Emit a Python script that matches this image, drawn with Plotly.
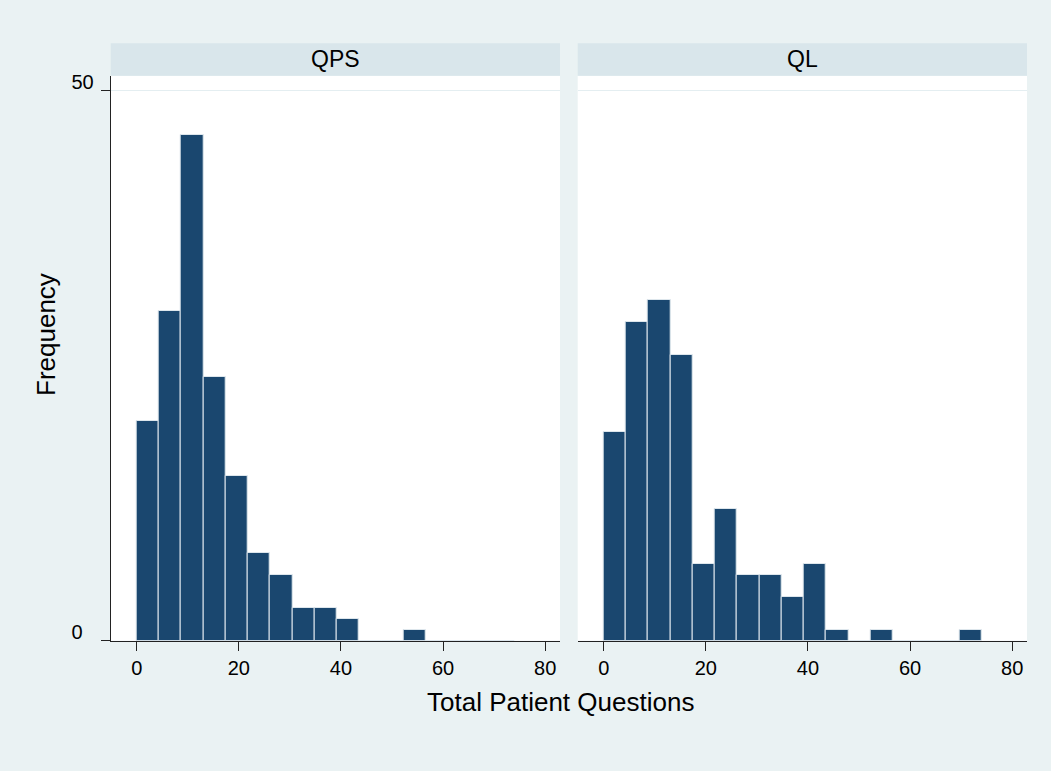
import numpy as np
import plotly.graph_objects as go

# Histogram counts per bin (17 equal-width bins starting at 0)
panels = ["QPS", "QL"]
qps_counts = [20, 30, 46, 24, 15, 8, 6, 3, 3, 2, 0, 0, 1, 0, 0, 0, 0]
ql_counts = [19, 29, 31, 26, 7, 12, 6, 6, 4, 7, 1, 0, 1, 0, 0, 0, 1]
bin_start = 0.0
bin_width = 74 / 17
x_ticks = [0, 20, 40, 60, 80]
y_ticks = [0, 50]
# left-aligned y labels: pad the single digit with a figure space
y_tick_text = ["0\u2007", "50"]

x_title = "Total Patient Questions"
y_title = "Frequency"

BAR = "#1a476f"
BAR_EDGE = "#dde6ec"
PAPER = "#eaf2f3"
STRIP = "#d9e6eb"
FONT = "Liberation Sans, Arial, sans-serif"

W, H = 1051, 771


def px_x(p):
    return p / W


def px_y(p):
    return 1 - p / H


edges = bin_start + bin_width * np.arange(len(qps_counts))
centers = edges + bin_width / 2

fig = go.Figure()
for i, counts in enumerate([qps_counts, ql_counts]):
    fig.add_trace(go.Bar(
        x=centers, y=counts, width=bin_width,
        marker=dict(color=BAR, line=dict(color=BAR_EDGE, width=1)),
        xaxis="x" if i == 0 else "x2",
        yaxis="y" if i == 0 else "y2",
        showlegend=False, hoverinfo="x+y",
    ))

x_domains = [[px_x(110.7), px_x(560)], [px_x(577.7), px_x(1027)]]
y_domain = [px_y(640.7), px_y(76)]

common_x = dict(
    range=[-5.1, 82.9], tickvals=x_ticks, ticks="outside", ticklen=9,
    tickwidth=1, tickcolor="#222", showline=True, linecolor="#222",
    linewidth=1, showgrid=False, zeroline=False, automargin=False,
    tickfont=dict(family=FONT, size=20, color="black"),
    ticklabelstandoff=0,
)
common_y = dict(
    range=[0, 51.33], tickvals=y_ticks, showgrid=True, gridcolor="#e4eef1",
    gridwidth=1, zeroline=False, automargin=False,
)

fig.update_layout(
    template="none",
    width=W, height=H, autosize=False,
    margin=dict(l=0, r=0, t=0, b=0, pad=0),
    paper_bgcolor=PAPER, plot_bgcolor="white",
    bargap=0,
    xaxis=dict(domain=x_domains[0], anchor="y", **common_x),
    xaxis2=dict(domain=x_domains[1], anchor="y2", **common_x),
    yaxis=dict(domain=y_domain, anchor="x", ticks="outside", ticklen=9,
               tickwidth=1, tickcolor="#222", showline=True,
               linecolor="#222", linewidth=1, ticklabelshift=-9,
               ticklabelstandoff=3, ticktext=y_tick_text,
               tickfont=dict(family=FONT, size=20, color="black"),
               **common_y),
    yaxis2=dict(domain=y_domain, anchor="x2", showticklabels=False,
                ticks="", showline=False, **common_y),
)

# Panel header strips
for name, dom in zip(panels, x_domains):
    fig.add_shape(type="rect", xref="paper", yref="paper",
                  x0=dom[0], x1=dom[1], y0=px_y(75.7), y1=px_y(43.3),
                  fillcolor=STRIP, line=dict(width=0), layer="below")
    fig.add_annotation(text=name, xref="paper", yref="paper",
                       x=(dom[0] + dom[1]) / 2, y=px_y(59.5),
                       showarrow=False, xanchor="center", yanchor="middle",
                       font=dict(family=FONT, size=23, color="black"))

# Shared axis titles
fig.add_annotation(text=x_title, xref="paper", yref="paper",
                   x=px_x(560.5), y=px_y(702), showarrow=False,
                   xanchor="center", yanchor="middle",
                   font=dict(family=FONT, size=26, color="black"))
fig.add_annotation(text=y_title, xref="paper", yref="paper",
                   x=px_x(46), y=px_y(335), showarrow=False, textangle=-90,
                   xanchor="center", yanchor="middle",
                   font=dict(family=FONT, size=26, color="black"))

fig.write_html("out.html")
